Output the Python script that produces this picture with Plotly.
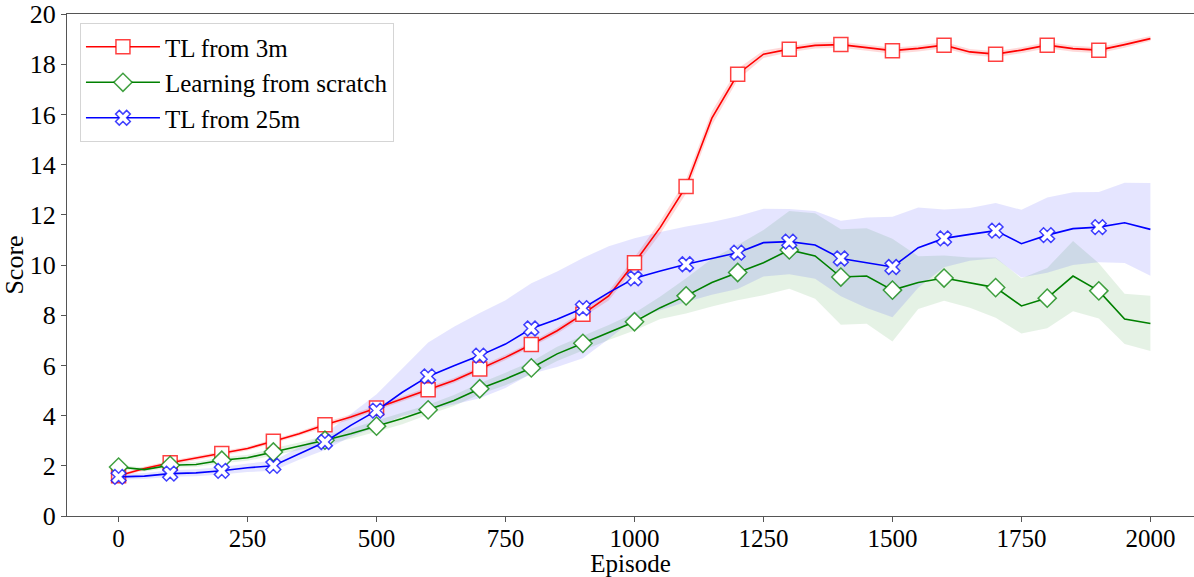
import plotly.graph_objects as go

# ---------------- data ----------------
episodes = [0, 50, 100, 150, 200, 250, 300, 350, 400, 450, 500, 550, 600, 650, 700, 750,
            800, 850, 900, 950, 1000, 1050, 1100, 1150, 1200, 1250, 1300, 1350, 1400, 1450,
            1500, 1550, 1600, 1650, 1700, 1750, 1800, 1850, 1900, 1950, 2000]

tl3_mean = [1.6, 1.89, 2.12, 2.3, 2.49, 2.69, 2.98, 3.28, 3.64, 3.94, 4.3, 4.67, 5.03, 5.4,
            5.86, 6.32, 6.83, 7.38, 8.04, 8.77, 10.09, 11.5, 13.13, 15.85, 17.6, 18.4, 18.6,
            18.75, 18.78, 18.65, 18.54, 18.63, 18.76, 18.49, 18.4, 18.56, 18.76, 18.62, 18.56,
            18.78, 19.02]
tl3_std = [0.05, 0.08, 0.08, 0.08, 0.08, 0.08, 0.08, 0.08, 0.1, 0.1, 0.1, 0.1, 0.1, 0.1, 0.1,
           0.1, 0.1, 0.12, 0.12, 0.18, 0.22, 0.25, 0.28, 0.28, 0.22, 0.15, 0.12, 0.12, 0.12,
           0.12, 0.12, 0.12, 0.12, 0.12, 0.12, 0.12, 0.12, 0.12, 0.12, 0.12, 0.1]

scratch_mean = [1.95, 1.85, 2.02, 2.05, 2.22, 2.32, 2.55, 2.78, 3.02, 3.28, 3.58, 3.88, 4.23,
                4.6, 5.07, 5.46, 5.9, 6.46, 6.88, 7.31, 7.74, 8.3, 8.77, 9.3, 9.7, 10.09, 10.6,
                10.36, 9.52, 9.56, 9.0, 9.3, 9.48, 9.3, 9.1, 8.37, 8.68, 9.56, 8.97, 7.85, 7.67]
scratch_std = [0.08, 0.08, 0.1, 0.1, 0.12, 0.12, 0.15, 0.15, 0.18, 0.2, 0.22, 0.22, 0.2, 0.22,
               0.22, 0.25, 0.25, 0.28, 0.3, 0.3, 0.35, 0.45, 0.7, 0.95, 1.1, 1.3, 1.55, 1.7,
               1.9, 1.9, 2.05, 1.05, 0.9, 1.0, 1.2, 1.1, 1.2, 1.4, 1.1, 1.0, 1.1]

tl25_mean = [1.56, 1.59, 1.69, 1.72, 1.8, 1.92, 2.0, 2.49, 2.95, 3.61, 4.2, 4.93, 5.56, 5.99,
             6.39, 6.85, 7.47, 7.84, 8.28, 8.9, 9.47, 9.76, 10.03, 10.26, 10.49, 10.89, 10.93,
             10.8, 10.26, 10.09, 9.92, 10.69, 11.06, 11.22, 11.37, 10.85, 11.19, 11.45, 11.51,
             11.68, 11.42]
tl25_std = [0.12, 0.12, 0.13, 0.14, 0.15, 0.17, 0.2, 0.25, 0.32, 0.45, 0.65, 0.95, 1.35, 1.55,
            1.7, 1.75, 1.8, 1.9, 2.0, 1.85, 1.6, 1.55, 1.5, 1.45, 1.45, 1.35, 1.3, 1.35, 1.5,
            1.8, 2.0, 1.6, 1.15, 1.05, 1.1, 1.35, 1.5, 1.45, 1.4, 1.6, 1.85]

series_names = ["TL from 3m", "Learning from scratch", "TL from 25m"]
x_ticks = [0, 250, 500, 750, 1000, 1250, 1500, 1750, 2000]
y_ticks = [0, 2, 4, 6, 8, 10, 12, 14, 16, 18, 20]

# ---------------- styling ----------------
FONT = "Liberation Serif"
AXC = "#555555"
styles = [
    dict(line="#ff0000", band="rgba(255,0,0,0.15)", edge="rgba(255,0,0,0.75)", symbol="square", size=14),
    dict(line="#008000", band="rgba(0,128,0,0.10)", edge="rgba(0,128,0,0.75)", symbol="diamond", size=14),
    dict(line="#0000ff", band="rgba(0,0,255,0.10)", edge="rgba(0,0,255,0.75)", symbol="x", size=13),
]
means = [tl3_mean, scratch_mean, tl25_mean]
stds = [tl3_std, scratch_std, tl25_std]

fig = go.Figure()

# bands first
for m, s, st in zip(means, stds, styles):
    upper = [a + b for a, b in zip(m, s)]
    lower = [a - b for a, b in zip(m, s)]
    fig.add_trace(go.Scatter(
        x=episodes + episodes[::-1], y=upper + lower[::-1], fill="toself",
        fillcolor=st["band"], line=dict(width=0), mode="lines",
        hoverinfo="skip", showlegend=False))

# lines + markers (markers every 100 episodes)
for name, m, st in zip(series_names, means, styles):
    fig.add_trace(go.Scatter(x=episodes, y=m, mode="lines",
                             line=dict(color=st["line"], width=1.6),
                             showlegend=False, legendgroup=name))
    mx = [e for e in episodes if e % 100 == 0 and e < 2000]
    my = [v for e, v in zip(episodes, m) if e % 100 == 0 and e < 2000]
    fig.add_trace(go.Scatter(x=mx, y=my, mode="markers",
                             marker=dict(symbol=st["symbol"], size=st["size"], color="white",
                                         line=dict(color=st["edge"], width=1.5)),
                             showlegend=False, legendgroup=name))
    # legend entry
    fig.add_trace(go.Scatter(x=[None], y=[None], mode="lines+markers", name=name,
                             line=dict(color=st["line"], width=1.6),
                             marker=dict(symbol=st["symbol"], size=st["size"], color="white",
                                         line=dict(color=st["edge"], width=1.5)),
                             legendgroup=name))

tickfont = dict(family=FONT, size=25, color="black")

fig.update_layout(
    width=1194, height=577,
    margin=dict(l=67, r=0, t=12, b=61),
    plot_bgcolor="white", paper_bgcolor="white",
    # primary x axis: labels + title, no tick marks (keeps labels close to the axis)
    xaxis=dict(range=[-100, 2084.5], tickvals=x_ticks, mirror=True, showgrid=False,
               zeroline=False, showline=True, linecolor=AXC, linewidth=1.3, ticks="",
               tickfont=tickfont,
               title=dict(text="Episode", font=dict(family=FONT, size=25, color="black"), standoff=3)),
    # overlay x axis: only the outside tick marks
    xaxis2=dict(overlaying="x", matches="x", side="bottom", tickvals=x_ticks,
                showticklabels=False, ticks="outside", ticklen=5, tickcolor=AXC,
                showgrid=False, zeroline=False, showline=False),
    yaxis=dict(range=[0, 20.0001], tickvals=y_ticks, showgrid=False, zeroline=False,
               showline=True, linecolor=AXC, linewidth=1.3, ticks="outside", ticklen=5,
               tickcolor=AXC, tickfont=dict(family=FONT, size=26, color="black"),
               ticklabeloverflow="allow",
               title=dict(text="Score", font=dict(family=FONT, size=26, color="black"), standoff=4)),
    legend=dict(x=0.0115, y=0.982, xanchor="left", yanchor="top",
                bgcolor="rgba(255,255,255,0.85)", bordercolor="#d5d5d5", borderwidth=1,
                font=dict(family=FONT, size=25, color="black"), itemwidth=74,
                tracegroupgap=0),
)
# a hidden trace so the overlay tick axis is drawn
fig.add_trace(go.Scatter(x=[episodes[0]], y=[tl3_mean[0]], xaxis="x2", mode="markers",
                         marker=dict(opacity=0), showlegend=False, hoverinfo="skip"))

fig.write_html("out.html")
